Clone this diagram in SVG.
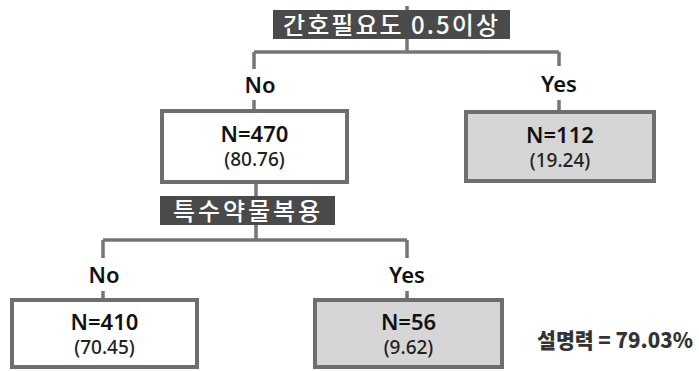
<svg xmlns="http://www.w3.org/2000/svg" width="699" height="371" viewBox="0 0 699 371">
<style>
.conn{fill:none;stroke:#767676;stroke-width:3.5;}
.box{fill:#ffffff;stroke:#6e6e6e;stroke-width:4;}
.gbox{fill:#d6d6d6;stroke:#6e6e6e;stroke-width:4;}
.dark{fill:#4a4a4a;}
.dlab{font-family:"Noto Sans CJK KR","Noto Sans",sans-serif;font-size:24px;font-weight:500;fill:#ffffff;}
.br{font-family:"Noto Sans","Noto Sans CJK KR",sans-serif;font-size:22px;font-weight:600;fill:#111111;text-anchor:middle;}
.n{font-family:"Noto Sans","Noto Sans CJK KR",sans-serif;font-size:22px;font-weight:600;fill:#111111;text-anchor:middle;}
.p{font-family:"Noto Sans","Noto Sans CJK KR",sans-serif;font-size:19px;font-weight:500;fill:#222222;text-anchor:middle;}
.r2{font-family:"Noto Sans CJK KR","Noto Sans",sans-serif;font-size:21px;font-weight:900;fill:#333333;}
</style>
<g id="connectors">
<path class="conn" d="M407 6 V52 M254 52 H559 M254 52 V69 M254 100 V110 M559 52 V66 M559 100 V112"/>
<path class="conn" d="M256 182 V240 M103 240 H407 M103 240 V258 M103 291 V300 M407 240 V258 M407 291 V300"/>
</g>
<g id="split1">
<rect class="dark" x="273" y="10" width="237" height="29"/>
<text class="dlab" x="283" y="34" textLength="215" lengthAdjust="spacing">간호필요도 0.5이상</text>
</g>
<g id="label-no1"><text class="br" x="260" y="93">No</text></g>
<g id="label-yes1"><text class="br" x="559" y="92">Yes</text></g>
<g id="node-470">
<rect class="box" x="162" y="111" width="185" height="71"/>
<text class="n" x="254.5" y="142">N=470</text>
<text class="p" x="254.5" y="166">(80.76)</text>
</g>
<g id="node-112">
<rect class="gbox" x="466" y="112" width="188" height="69"/>
<text class="n" x="560" y="143">N=112</text>
<text class="p" x="560" y="167">(19.24)</text>
</g>
<g id="split2">
<rect class="dark" x="160" y="196" width="175" height="29"/>
<text class="dlab" x="173" y="220" textLength="147" lengthAdjust="spacing">특수약물복용</text>
</g>
<g id="label-no2"><text class="br" x="104" y="283">No</text></g>
<g id="label-yes2"><text class="br" x="407" y="283">Yes</text></g>
<g id="node-410">
<rect class="box" x="12" y="300" width="185" height="67"/>
<text class="n" x="104.5" y="330">N=410</text>
<text class="p" x="104.5" y="354">(70.45)</text>
</g>
<g id="node-56">
<rect class="gbox" x="315" y="300" width="187" height="67"/>
<text class="n" x="408.5" y="330">N=56</text>
<text class="p" x="408.5" y="354">(9.62)</text>
</g>
<g id="r2">
<text class="r2" x="537" y="348" textLength="156" lengthAdjust="spacingAndGlyphs">설명력 = 79.03%</text>
</g>
</svg>
